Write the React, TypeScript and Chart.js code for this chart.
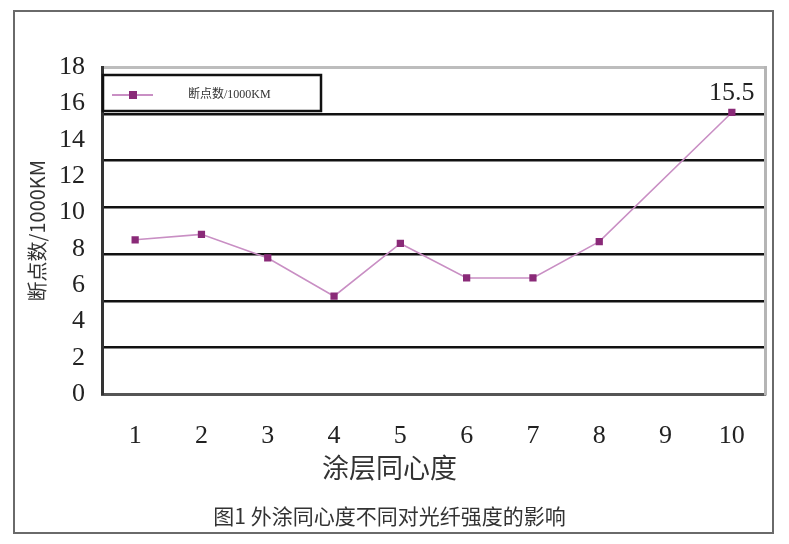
import React, { useEffect, useRef } from "react";
import { Chart, registerables } from "chart.js";

Chart.register(...registerables);

// ---- data ----
const categories: string[] = ["1", "2", "3", "4", "5", "6", "7", "8", "9", "10"];
const breakPoints: (number | null)[] = [8.5, 8.8, 7.5, 5.4, 8.3, 6.4, 6.4, 8.4, null, 15.5];
const yMin = 0;
const yMax = 18;
const yStep = 2;
const gridBands = 7;
const seriesLabel = "断点数/1000KM";
const xTitle = "涂层同心度";
const yTitle = "断点数/1000KM";
const caption = "图1 外涂同心度不同对光纤强度的影响";
const annotatedIndex = 9;

const SERIF = "'Liberation Serif', 'Noto Sans CJK SC', serif";
const CJK = "'Noto Sans CJK SC', 'Liberation Serif', serif";
const LINE_COLOR = "#c98fc4";
const MARKER_COLOR = "#8a2a78";

const framePlugin = {
  id: "frame",
  beforeDraw(chart: any) {
    const ctx = chart.ctx;
    ctx.save();
    ctx.fillStyle = "#ffffff";
    ctx.fillRect(0, 0, chart.width, chart.height);
    ctx.strokeStyle = "#6a6a6a";
    ctx.lineWidth = 2;
    ctx.strokeRect(14, 11, 759, 522);
    ctx.restore();
  },
};

const annotatePlugin = {
  id: "annotate",
  afterDatasetsDraw(chart: any) {
    const meta = chart.getDatasetMeta(0);
    const el = meta.data[annotatedIndex];
    const v = chart.data.datasets[0].data[annotatedIndex];
    if (!el || v == null) return;
    const ctx = chart.ctx;
    ctx.save();
    ctx.font = `26px ${SERIF}`;
    ctx.fillStyle = "#222";
    ctx.textAlign = "center";
    ctx.textBaseline = "bottom";
    ctx.fillText(String(v), el.x, el.y - 6);
    ctx.restore();
  },
};

const legendPlugin = {
  id: "boxLegend",
  afterDraw(chart: any) {
    const ca = chart.chartArea;
    const ctx = chart.ctx;
    const x = ca.left + 1;
    const y = ca.top + 8;
    const w = 218;
    const h = 36;
    ctx.save();
    ctx.fillStyle = "#ffffff";
    ctx.fillRect(x, y, w, h);
    ctx.strokeStyle = "#111";
    ctx.lineWidth = 2.5;
    ctx.strokeRect(x, y, w, h);
    const cy = y + h / 2 + 2;
    ctx.strokeStyle = LINE_COLOR;
    ctx.lineWidth = 2;
    ctx.beginPath();
    ctx.moveTo(x + 9, cy);
    ctx.lineTo(x + 50, cy);
    ctx.stroke();
    ctx.fillStyle = MARKER_COLOR;
    ctx.fillRect(x + 30 - 4, cy - 4, 8, 8);
    ctx.fillStyle = "#333";
    ctx.font = `12px ${SERIF}`;
    ctx.textAlign = "left";
    ctx.textBaseline = "middle";
    ctx.fillText(chart.data.datasets[0].label, x + 85, cy);
    ctx.restore();
  },
};

export default function App() {
  const ref = useRef<HTMLCanvasElement | null>(null);

  useEffect(() => {
    if (!ref.current) return;
    const chart = new Chart(ref.current, {
      type: "line",
      data: {
        labels: categories,
        datasets: [
          {
            label: seriesLabel,
            data: breakPoints,
            borderColor: LINE_COLOR,
            borderWidth: 1.6,
            backgroundColor: MARKER_COLOR,
            pointStyle: "rect",
            pointRadius: 4,
            pointBorderColor: MARKER_COLOR,
            pointBackgroundColor: MARKER_COLOR,
            spanGaps: true,
            tension: 0,
          },
        ],
      },
      options: {
        responsive: false,
        animation: false,
        layout: { padding: { left: 14, top: 67, right: 24, bottom: 15 } },
        plugins: {
          legend: { display: false },
          tooltip: { enabled: false },
          subtitle: {
            display: true,
            text: xTitle,
            position: "bottom",
            weight: 1000,
            color: "#333",
            font: { family: CJK, size: 27, weight: "normal" },
            padding: { top: 0, bottom: 10 },
          } as any,
          title: {
            display: true,
            text: caption,
            position: "bottom",
            weight: 2000,
            color: "#333",
            font: { family: CJK, size: 21, weight: "normal" },
            padding: { top: 10, bottom: 0 },
          } as any,
        },
        scales: {
          x: {
            type: "category",
            offset: true,
            grid: { display: true, drawOnChartArea: false, drawTicks: false },
            border: { display: true, color: "#555", width: 3 },
            ticks: {
              color: "#222",
              font: { family: SERIF, size: 26 },
              padding: 26,
              maxRotation: 0,
            },
            afterFit: (s: any) => {
              s.height = 57;
            },
          },
          y: {
            type: "linear",
            position: "left",
            min: yMin,
            max: yMax,
            grid: { display: true, drawOnChartArea: false, drawTicks: false },
            border: { display: true, color: "#333", width: 3 },
            ticks: {
              stepSize: yStep,
              color: "#222",
              font: { family: SERIF, size: 26 },
              padding: 17,
            },
            title: {
              display: true,
              text: yTitle,
              color: "#333",
              font: { family: CJK, size: 20 },
              padding: { top: 11, bottom: 0 },
            },
            afterFit: (s: any) => {
              s.width = 88;
            },
          },
          g: {
            type: "linear",
            position: "right",
            min: 0,
            max: gridBands,
            ticks: { display: false, stepSize: 1 },
            grid: {
              drawTicks: false,
              color: (c: any) =>
                c.tick && c.tick.value === gridBands
                  ? "#bdbdbd"
                  : c.tick && c.tick.value === 0
                  ? "rgba(0,0,0,0)"
                  : "#111",
              lineWidth: (c: any) => (c.tick && c.tick.value === gridBands ? 3 : 2.5),
            },
            border: { display: true, color: "#b5b5b5", width: 3 },
            afterFit: (s: any) => {
              s.width = 0;
            },
          },
        },
      },
      plugins: [framePlugin, annotatePlugin, legendPlugin],
    });
    return () => chart.destroy();
  }, []);

  return (
    <div
      style={{
        position: "fixed",
        left: 0,
        top: 0,
        width: 789,
        height: 544,
        background: "#fff",
      }}
    >
      <canvas ref={ref} width={789} height={544} style={{ display: "block" }} />
    </div>
  );
}
